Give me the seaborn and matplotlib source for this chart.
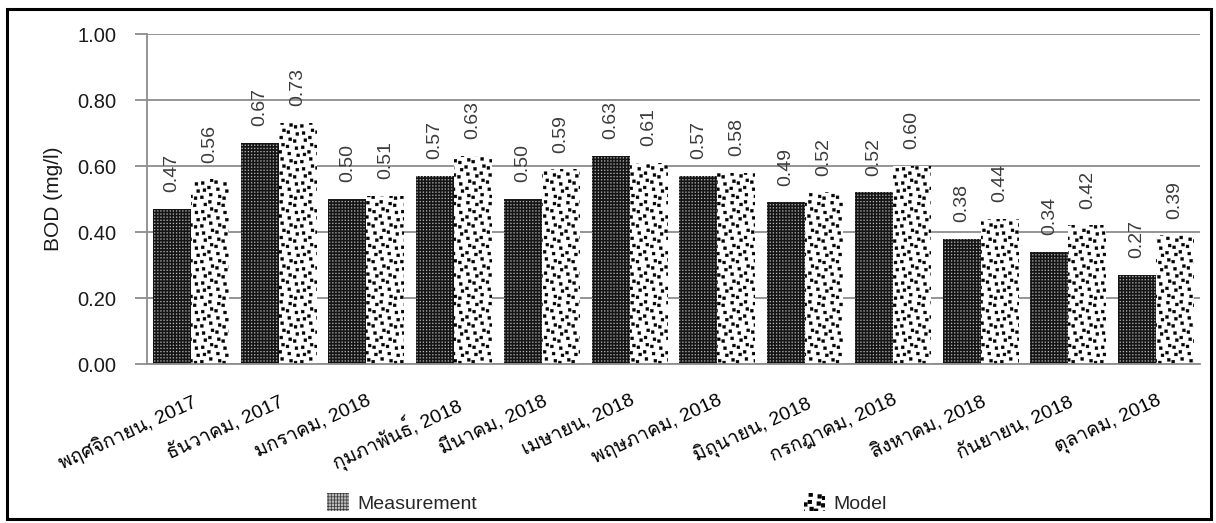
import matplotlib
matplotlib.use("Agg")
import numpy as np
import matplotlib.pyplot as plt
import matplotlib.hatch as mhatch
from matplotlib.path import Path
from matplotlib.patches import Patch, Rectangle
import seaborn as sns
import pandas as pd

months = ["พฤศจิกายน, 2017", "ธันวาคม, 2017", "มกราคม, 2018", "กุมภาพันธ์, 2018",
          "มีนาคม, 2018", "เมษายน, 2018", "พฤษภาคม, 2018", "มิถุนายน, 2018",
          "กรกฎาคม, 2018", "สิงหาคม, 2018", "กันยายน, 2018", "ตุลาคม, 2018"]
measurement = [0.47, 0.67, 0.50, 0.57, 0.50, 0.63, 0.57, 0.49, 0.52, 0.38, 0.34, 0.27]
model = [0.56, 0.73, 0.51, 0.63, 0.59, 0.61, 0.58, 0.52, 0.60, 0.44, 0.42, 0.39]
series_names = ["Measurement", "Model"]
y_ticks = [0.0, 0.2, 0.4, 0.6, 0.8, 1.0]


# --- square-dot fill patterns (one hatch tile = 1 inch) -------------------
class _SquareDots(mhatch.HatchPatternBase):
    char = None
    cells = 10
    half = 0.2          # half side of a square, in cell units

    def __init__(self, hatch, density):
        self.centres = self.make_centres() if self.char in hatch else np.empty((0, 2))
        self.num_vertices = 5 * len(self.centres)

    def make_centres(self):
        i, j = np.meshgrid(np.arange(self.cells), np.arange(self.cells))
        return np.column_stack([(i.ravel() + 0.5), (j.ravel() + 0.5)]) / self.cells

    def set_vertices_and_codes(self, vertices, codes):
        h = self.half / self.cells
        offs = np.array([[-h, -h], [h, -h], [h, h], [-h, h], [-h, -h]])
        vertices[:] = (self.centres[:, None, :] + offs[None]).reshape(-1, 2)
        codes[:] = np.tile([Path.MOVETO, Path.LINETO, Path.LINETO,
                            Path.LINETO, Path.CLOSEPOLY], len(self.centres))


class FineGrid(_SquareDots):
    """Tight regular grid of tiny squares ('o')."""
    char = "o"
    cells = 32
    half = 0.18


class Confetti(_SquareDots):
    """Loosely scattered larger squares ('O')."""
    char = "O"
    cells = 14
    half = 0.2

    def make_centres(self):
        i, j = np.meshgrid(np.arange(self.cells), np.arange(self.cells))
        i, j = i.ravel(), j.ravel()
        jx = ((i * 7 + j * 3) % 5 - 2) / 8
        jy = ((i * 3 + j * 5 + 1) % 5 - 2) / 8
        return np.column_stack([i + 0.5 + jx, j + 0.5 + jy]) / self.cells


mhatch._hatch_types = [t for t in mhatch._hatch_types
                       if t not in (mhatch.SmallCircles, mhatch.LargeCircles)]
mhatch._hatch_types += [FineGrid, Confetti]

sns.set_theme(style="white")
plt.rcParams["font.family"] = ["Liberation Sans", "Loma", "DejaVu Sans"]

# fill for each series: face colour, dot colour, hatch, dot outline weight
styles = [
    dict(face="#141414", dots="#bdbdbd", hatch="o", lw=0.1),
    dict(face="white", dots="black", hatch="O", lw=0.3),
]

df = pd.DataFrame({
    "month": months * 2,
    "value": measurement + model,
    "series": [series_names[0]] * len(months) + [series_names[1]] * len(months),
})

W, H = 1216, 523
fig = plt.figure(figsize=(W / 100, H / 100), dpi=100)
ax = fig.add_axes([147 / W, 1 - 364 / H, (1200 - 147) / W, (364 - 34) / H])

sns.barplot(data=df, x="month", y="value", hue="series", ax=ax,
            palette=[styles[0]["face"], styles[1]["face"]], width=0.866, gap=0,
            saturation=1, legend=False, errorbar=None)


def apply_texture(patch, st):
    patch.set_facecolor(st["face"])
    patch.set_edgecolor(st["dots"])
    patch.set_hatch(st["hatch"])
    patch.set_linewidth(0)
    if hasattr(patch, "set_hatch_linewidth"):
        patch.set_hatch_linewidth(st["lw"])


for i, cont in enumerate(ax.containers):
    for bar in cont:
        apply_texture(bar, styles[i])
    ax.bar_label(cont, fmt="%.2f", rotation=90, padding=12, fontsize=14,
                 color="#3c3c3c")

ax.set_ylim(0, 1.0)
ax.set_xlim(-0.5, len(months) - 0.5)
ax.set_yticks(y_ticks)
ax.set_yticklabels([f"{t:.2f}" for t in y_ticks], fontsize=14.5, color="#1a1a1a")
ax.yaxis.grid(True, color="#8c8c8c", linewidth=1.3)
ax.set_axisbelow(True)
ax.tick_params(axis="y", length=9, width=1.3, color="#8c8c8c", pad=13, left=True)
ax.tick_params(axis="x", length=0, pad=20)
for s in ["top", "right"]:
    ax.spines[s].set_visible(False)
for s in ["left", "bottom"]:
    ax.spines[s].set_color("#8c8c8c")
    ax.spines[s].set_linewidth(1.3)

ax.set_xticks(range(len(months)))
ax.set_xticklabels(months, rotation=25, ha="right", va="top",
                   rotation_mode="anchor", fontsize=14, color="black")
ax.set_xlabel("")
ax.set_ylabel("BOD (mg/l)", fontsize=15, color="#1a1a1a", labelpad=10)

# legend entries spread along the bottom edge
for name, st, x in zip(series_names, styles, [310, 786]):
    h = Patch(facecolor=st["face"], edgecolor=st["dots"], hatch=st["hatch"],
              linewidth=0)
    if hasattr(h, "set_hatch_linewidth"):
        h.set_hatch_linewidth(st["lw"])
    fig.legend([h], [name], loc="center left", bbox_to_anchor=(x / W, 1 - 503 / H),
               frameon=False, fontsize=14, handlelength=1.1, handleheight=1.05,
               handletextpad=0.45)

fig.patches.append(Rectangle((7 / W, 4 / H), (1211 - 7) / W, (519 - 9) / H,
                             transform=fig.transFigure, fill=False,
                             edgecolor="black", linewidth=2.2))
fig.savefig("out.png", dpi=100)
